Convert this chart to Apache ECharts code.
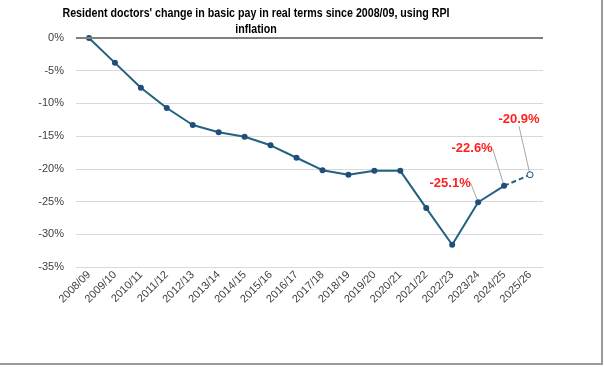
<!DOCTYPE html>
<html>
<head>
<meta charset="utf-8">
<script src="https://cdn.jsdelivr.net/npm/echarts@6/dist/echarts.min.js"></script>
<style>
html,body{margin:0;padding:0;background:#fff;}
#wrap{position:absolute;left:0;top:0;width:601px;height:363px;border-right:2px solid #9a9a9a;border-bottom:2px solid #9a9a9a;}
#chart{width:601px;height:363px;}
</style>
</head>
<body>
<div id="wrap"><div id="chart"></div></div>
<script>
const titleText = "Resident doctors' change in basic pay in real terms since 2008/09, using RPI\ninflation";
const categories = ["2008/09","2009/10","2010/11","2011/12","2012/13","2013/14","2014/15","2015/16","2016/17","2017/18","2018/19","2019/20","2020/21","2021/22","2022/23","2023/24","2024/25","2025/26"];
const actualValues = [0,-3.8,-7.6,-10.7,-13.3,-14.4,-15.1,-16.4,-18.3,-20.2,-20.9,-20.3,-20.3,-26.0,-31.6,-25.1,-22.6,null];
const projectedValues = [null,null,null,null,null,null,null,null,null,null,null,null,null,null,null,null,-22.6,-20.9];
const labelledIndexes = [15,16];
const yTicks = [0,-5,-10,-15,-20,-25,-30,-35];

const FONT = "'Liberation Sans', Arial, sans-serif";
const labelOffsets = {15:[-28,-19],16:[-32,-37],17:[-11,-55]};
const labelStyle = {show:true,position:'inside',color:'#ff1f1f',fontWeight:'bold',fontSize:13,fontFamily:FONT,formatter:p=>p.value.toFixed(1)+'%'};

const mainData = actualValues.map((v,i)=>{
  if (labelledIndexes.includes(i)) return {value:v,label:labelStyle,labelLine:{show:true}};
  return v;
});
const projData = projectedValues.map((v,i)=>{
  if (v===null) return null;
  if (i===17) return {value:v,label:labelStyle,labelLine:{show:true},symbolSize:6};
  return {value:v,symbolSize:0};
});

const chart = echarts.init(document.getElementById('chart'),null,{renderer:'canvas'});
chart.setOption({
  animation:false,
  graphic:[{type:'text',x:256,y:5,scaleX:0.82,scaleY:1,originX:0,originY:0,silent:true,
    style:{text:titleText,fill:'#000',font:"bold 13px 'Liberation Sans', Arial, sans-serif",textAlign:'center',lineHeight:16}}],
  grid:{left:76,right:58,top:38,bottom:96,containLabel:false},
  xAxis:{type:'category',data:categories,boundaryGap:true,
    axisLine:{show:false,onZero:false},axisTick:{show:false},
    axisLabel:{rotate:45,color:'#404040',fontSize:11,fontFamily:FONT,margin:6,interval:0}},
  yAxis:{type:'value',min:-35,max:0,interval:5,
    axisLine:{show:false},axisTick:{show:false},
    axisLabel:{formatter:v=>v+'%',color:'#404040',fontSize:11,fontFamily:FONT,margin:12},
    splitLine:{lineStyle:{color:'#d9d9d9',width:1}}},
  series:[
    {type:'line',data:mainData,symbol:'circle',symbolSize:6,
      lineStyle:{color:'#22617f',width:2},itemStyle:{color:'#1f4e79'},
      label:{show:false},labelLine:{show:false,lineStyle:{color:'#a6a6a6',width:1}},
      labelLayout:p=>labelOffsets[p.dataIndex]?{dx:labelOffsets[p.dataIndex][0],dy:labelOffsets[p.dataIndex][1]}:{},
      markLine:{silent:true,symbol:'none',label:{show:false},lineStyle:{color:'#808080',width:2,type:'solid'},data:[{yAxis:0}]},
      z:3},
    {type:'line',data:projData,symbol:'circle',symbolSize:6,connectNulls:false,
      lineStyle:{color:'#22617f',width:2,type:[5,3]},itemStyle:{color:'#ffffff',borderColor:'#1f4e79',borderWidth:1},
      label:{show:false},labelLine:{show:false,lineStyle:{color:'#a6a6a6',width:1}},
      labelLayout:p=>labelOffsets[p.dataIndex]?{dx:labelOffsets[p.dataIndex][0],dy:labelOffsets[p.dataIndex][1]}:{},
      z:3}
  ]
});
</script>
</body>
</html>
